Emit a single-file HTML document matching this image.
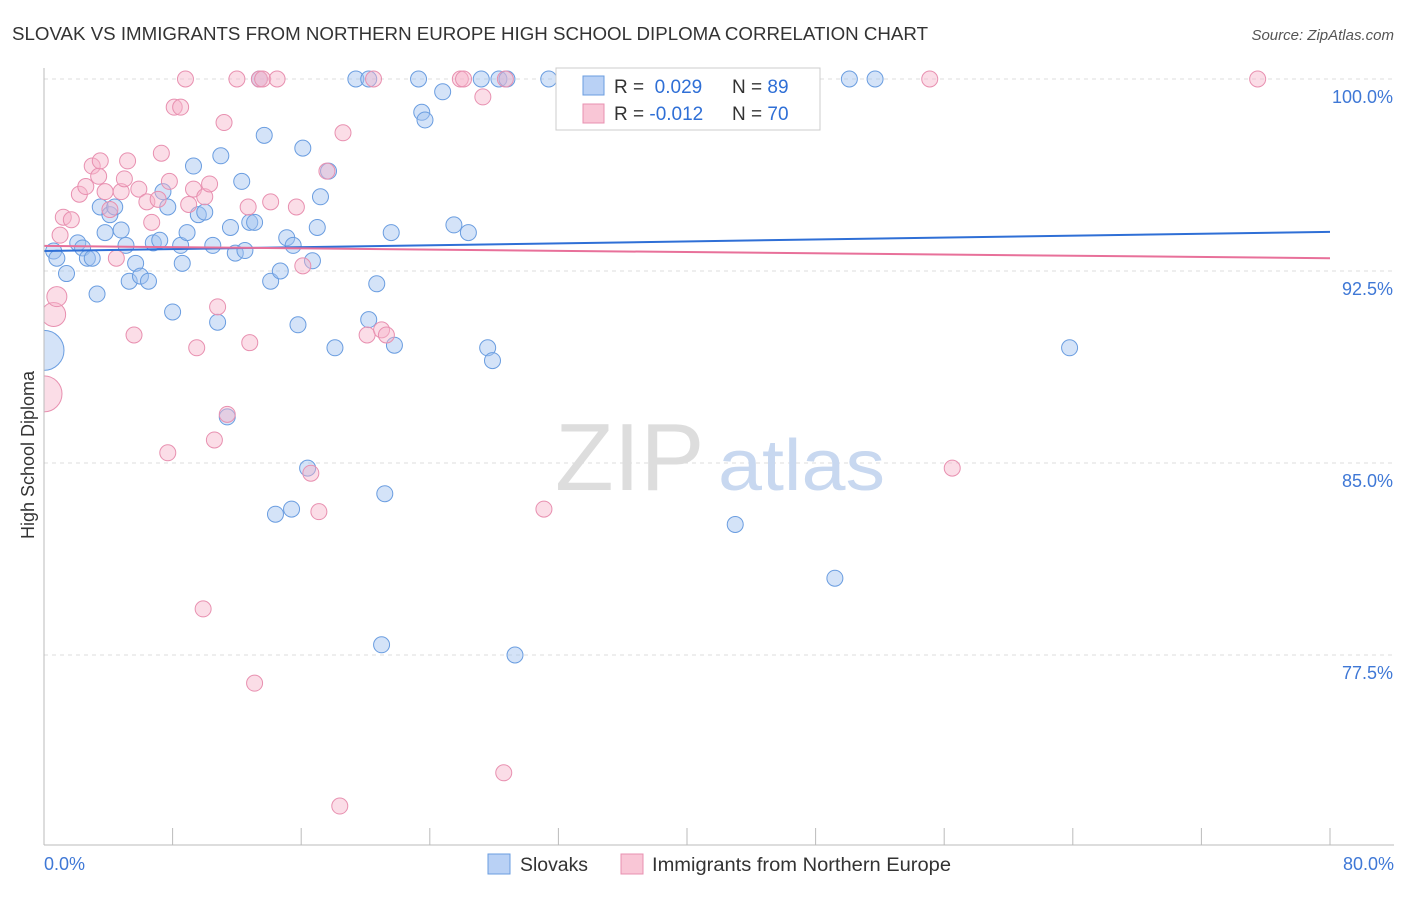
<!DOCTYPE html>
<html><head><meta charset="utf-8"><style>
body{margin:0;background:#fff;font-family:"Liberation Sans",sans-serif}
svg text{font-family:"Liberation Sans",sans-serif}
</style></head><body>
<svg id="c" width="1406" height="892" xmlns="http://www.w3.org/2000/svg">
<defs><clipPath id="plotclip"><rect x="44" y="0" width="1362" height="845"/></clipPath></defs>
<text x="12" y="40" font-size="18" fill="#333" textLength="916" lengthAdjust="spacingAndGlyphs">SLOVAK VS IMMIGRANTS FROM NORTHERN EUROPE HIGH SCHOOL DIPLOMA CORRELATION CHART</text>
<text x="1394" y="40" font-size="15" fill="#555" font-style="italic" text-anchor="end">Source: ZipAtlas.com</text>
<g id="grid"></g>
<g><text x="555" y="490" font-size="96" font-family="Liberation Serif" fill="#ddd">ZIP</text><text x="718" y="490" font-size="72" fill="#c8d8f0" textLength="167" lengthAdjust="spacingAndGlyphs">atlas</text></g>
<g id="pts" clip-path="url(#plotclip)"></g>
<g id="axes"></g>
<g>
<rect x="556" y="68" width="264" height="62" fill="#fff" stroke="#ccc"/>
<rect x="583" y="76" width="21" height="19" fill="#b9d1f5" stroke="#6a9de0"/>
<rect x="583" y="104" width="21" height="19" fill="#f9c6d6" stroke="#e890b0"/>
<text x="614" y="93" font-size="19" fill="#333">R = <tspan fill="#2f6fd6">&#160;0.029</tspan></text>
<text x="732" y="93" font-size="19" fill="#333">N = <tspan fill="#2f6fd6">89</tspan></text>
<text x="614" y="120" font-size="19" fill="#333">R = <tspan fill="#2f6fd6">-0.012</tspan></text>
<text x="732" y="120" font-size="19" fill="#333">N = <tspan fill="#2f6fd6">70</tspan></text>
</g>
<g>
<rect x="488" y="854" width="22" height="20" fill="#b9d1f5" stroke="#6a9de0"/>
<text x="520" y="871" font-size="19" fill="#333" textLength="68" lengthAdjust="spacingAndGlyphs">Slovaks</text>
<rect x="621" y="854" width="22" height="20" fill="#f9c6d6" stroke="#e890b0"/>
<text x="652" y="871" font-size="19" fill="#333" textLength="299" lengthAdjust="spacingAndGlyphs">Immigrants from Northern Europe</text>
</g>
<text transform="translate(34,455) rotate(-90)" font-size="18" fill="#333" text-anchor="middle">High School Diploma</text>
</svg>
<script>
const blueX=[0.6,0.8,1.4,2.1,2.4,2.7,3.0,3.3,3.5,3.8,4.1,4.4,4.8,5.1,5.3,5.7,6.0,6.5,6.8,7.2,7.4,7.7,8.0,8.5,8.6,8.9,9.3,9.6,10.0,10.5,10.8,11.0,11.4,11.6,11.9,12.3,12.5,12.8,13.1,13.4,13.7,14.1,14.7,15.1,15.5,15.8,16.1,16.4,14.4,15.4,16.7,17.0,17.2,17.7,18.1,19.4,20.2,20.2,20.7,21.2,21.0,21.6,21.8,23.3,23.5,23.7,24.8,25.5,26.4,27.2,27.6,27.9,28.3,28.8,29.3,31.4,37.8,38.3,43.0,49.2,50.1,51.7,63.8,0];
const blueY=[93.28,93.0,92.4,93.6,93.4,93.0,93.0,91.6,95.0,94.0,94.7,95.0,94.1,93.5,92.1,92.8,92.3,92.1,93.6,93.7,95.6,95.0,90.9,93.5,92.8,94.0,96.6,94.7,94.8,93.5,90.5,97.0,86.8,94.2,93.2,96.0,93.3,94.4,94.4,100,97.8,92.1,92.5,93.8,93.5,90.4,97.3,84.8,83.0,83.2,92.9,94.2,95.4,96.4,89.5,100,100,90.6,92.0,83.8,77.9,94.0,89.6,100,98.7,98.4,99.5,94.3,94.0,100,89.5,89.0,100,100,77.5,100,100,100,82.6,80.5,100,100,89.5,89.4];
const blueR={83:20};
const pinkX=[0,0.6,0.8,1.0,1.2,1.7,2.2,2.6,3.0,3.4,3.5,3.8,4.1,4.5,4.8,5.0,5.2,5.6,5.9,6.4,6.7,7.1,7.3,7.7,7.8,8.1,8.5,8.8,9.0,9.3,9.5,9.9,10.0,10.3,10.6,10.8,11.2,11.4,12.0,12.7,12.8,13.1,13.4,13.6,14.1,14.5,15.7,16.1,16.6,17.1,17.6,18.4,18.6,20.1,20.5,21.0,21.3,25.9,26.1,27.3,28.6,28.7,31.1,33.1,55.1,56.5,75.5];
const pinkY=[87.7,90.8,91.5,93.9,94.6,94.5,95.5,95.8,96.6,96.2,96.8,95.6,94.9,93.0,95.6,96.1,96.8,90.0,95.7,95.2,94.4,95.3,97.1,85.4,96.0,98.9,98.9,100,95.1,95.7,89.5,79.3,95.4,95.9,85.9,91.1,98.3,86.9,100,95.0,89.7,76.4,100,100,95.2,100,95.0,92.7,84.6,83.1,96.4,71.6,97.9,90.0,100,90.2,90.0,100,100,99.3,72.9,100,83.2,100,100,84.8,100];
const pinkR={0:18,1:12,2:10};
const blueTrend=[93.28,94.03];
const pinkTrend=[93.48,93.0];
const yTicks=[100,92.5,85,77.5];
const yTickLabels=["100.0%","92.5%","85.0%","77.5%"];
const xTickVals=[0,8,16,24,32,40,48,56,64,72,80];

const NS="http://www.w3.org/2000/svg";
const sx=v=>44+v*16.075, sy=v=>79+(100-v)*25.6;
function mk(t,a,p){const e=document.createElementNS(NS,t);for(const k in a)e.setAttribute(k,a[k]);p.appendChild(e);return e;}
const grid=document.getElementById('grid'),axes=document.getElementById('axes'),pts=document.getElementById('pts');
yTicks.forEach((v,i)=>{
 const l=mk('line',{x1:44,x2:1394,y1:sy(v),y2:sy(v),stroke:'#ddd','stroke-dasharray':'4,4'},grid);
 
 
 const t=mk('text',{x:1393,y:sy(v)+24,'font-size':18,fill:'#3f78d6','text-anchor':'end'},axes);
 t.textContent=yTickLabels[i];
 
 
});
const ax=mk('line',{x1:44,x2:1394,y1:845,y2:845,stroke:'#bbb'},axes);


const ay=mk('line',{x1:44,x2:44,y1:68,y2:845,stroke:'#bbb'},axes);


xTickVals.forEach(v=>{const t=mk('line',{x1:sx(v),x2:sx(v),y1:828,y2:845,stroke:'#bbb'},axes);
 
 });
const xl0=mk('text',{x:44,y:870,'font-size':18,fill:'#3f78d6'},axes);xl0.textContent=xTickVals[0].toFixed(1)+'%';


const xl1=mk('text',{x:1394,y:870,'font-size':18,fill:'#3f78d6','text-anchor':'end'},axes);xl1.textContent=xTickVals[xTickVals.length-1].toFixed(1)+'%';


function series(X,Y,R,fill,stroke,name){X.forEach((x,i)=>{
 const c=mk('circle',{cx:sx(x),cy:sy(Y[i]),r:R[i]||8,fill:fill,stroke:stroke,'stroke-width':1},pts);
 
 });}
series(blueX,blueY,blueR,'rgba(160,192,240,0.45)','#6a9de0','slovak-point');
series(pinkX,pinkY,pinkR,'rgba(246,180,202,0.45)','#e890b0','immigrant-point');
const bl=mk('line',{x1:sx(0),x2:sx(80),y1:sy(blueTrend[0]),y2:sy(blueTrend[1]),stroke:'#2f6fd6','stroke-width':2},pts);


const pl=mk('line',{x1:sx(0),x2:sx(80),y1:sy(pinkTrend[0]),y2:sy(pinkTrend[1]),stroke:'#e8709a','stroke-width':2},pts);


</script>
</body></html>
